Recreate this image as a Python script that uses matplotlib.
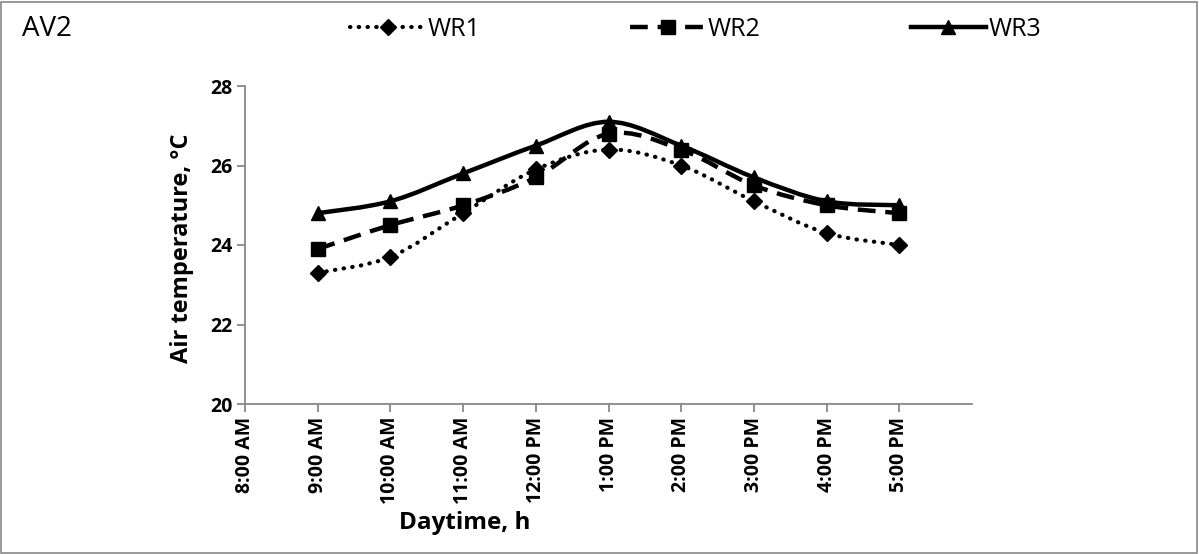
import numpy as np
import matplotlib.pyplot as plt
from matplotlib.path import Path
from matplotlib.patches import PathPatch, Rectangle
from matplotlib.lines import Line2D

plt.rcParams['font.family'] = ['Open Sans', 'DejaVu Sans']

# data
times = ["8:00 AM", "9:00 AM", "10:00 AM", "11:00 AM", "12:00 PM",
         "1:00 PM", "2:00 PM", "3:00 PM", "4:00 PM", "5:00 PM"]
wr1 = [23.3, 23.7, 24.8, 25.9, 26.4, 26.0, 25.1, 24.3, 24.0]
wr2 = [23.9, 24.5, 25.0, 25.7, 26.8, 26.4, 25.5, 25.0, 24.8]
wr3 = [24.8, 25.1, 25.8, 26.5, 27.1, 26.5, 25.7, 25.1, 25.0]
y_ticks = [20, 22, 24, 26, 28]


def smooth_path(x, y):
    # excel-like smoothed line (catmull-rom as cubic bezier)
    pts = np.column_stack([x, y]).astype(float)
    n = len(pts)
    verts = [pts[0]]
    codes = [Path.MOVETO]
    for i in range(n - 1):
        p0 = pts[max(i - 1, 0)]
        p1 = pts[i]
        p2 = pts[i + 1]
        p3 = pts[min(i + 2, n - 1)]
        verts += [p1 + (p2 - p0) / 6, p2 - (p3 - p1) / 6, p2]
        codes += [Path.CURVE4] * 3
    return Path(verts, codes)


fig = plt.figure(figsize=(11.99, 5.54), dpi=100)
ax = fig.add_axes([245 / 1199, 1 - 404 / 554, (972 - 245) / 1199, (404 - 86) / 554])

x = np.arange(1, len(wr1) + 1)
series = [
    ("WR1", wr1, (0, (0.1, 2.0)), 'D', 8.5, 3.0, 'round'),
    ("WR2", wr2, (0, (4.0, 2.2)), 's', 10, 3.2, 'butt'),
    ("WR3", wr3, '-', '^', 10.5, 3.2, 'butt'),
]
handles = []
for name, vals, ls, mk, ms, lw, cap in series:
    patch = PathPatch(smooth_path(x, vals), fill=False, edgecolor='black',
                      linewidth=lw, linestyle=ls, capstyle=cap, zorder=3)
    ax.add_patch(patch)
    ax.plot(x, vals, linestyle='none', marker=mk, markersize=ms,
            color='black', zorder=4)
    h = Line2D([0], [0], color='black', linewidth=lw, linestyle=ls,
               marker=mk, markersize=ms, dash_capstyle=cap)
    handles.append(h)

ax.set_xlim(0, 10)
ax.set_ylim(20, 28)
ax.set_xticks(np.arange(len(times)))
ax.set_xticklabels(times, rotation=90, fontsize=14, fontweight='bold')
ax.set_yticks(y_ticks)
ax.set_yticklabels([str(v) for v in y_ticks], fontsize=14, fontweight='bold')

for s in ['top', 'right']:
    ax.spines[s].set_visible(False)
for s in ['left', 'bottom']:
    ax.spines[s].set_color('#888888')
    ax.spines[s].set_linewidth(1.3)
ax.tick_params(axis='both', color='#888888', length=6, width=1.3, pad=3)

fig.text(182 / 1199, 1 - 248 / 554, "Air temperature, °C", fontsize=17,
         fontweight='bold', rotation=90, ha='center', va='center')
fig.text(465 / 1199, 1 - 523 / 554, "Daytime, h", fontsize=17.5,
         fontweight='bold', ha='center', va='center')

fig.text(22 / 1199, 1 - 29 / 554, "AV2", fontsize=20, ha='left', va='center')

fig.legend(handles=handles, labels=["WR1", "WR2", "WR3"], ncol=3,
           loc='center left', bbox_to_anchor=(340 / 1199, 1 - 29 / 554),
           frameon=False, fontsize=18, handlelength=3.0, handletextpad=0.1,
           columnspacing=6.0, borderaxespad=0)

fig.patches.append(Rectangle((0.001, 0.002), 0.997, 0.995, transform=fig.transFigure,
                             fill=False, edgecolor='#888888', linewidth=1.2))

fig.savefig("out.png", dpi=100)
